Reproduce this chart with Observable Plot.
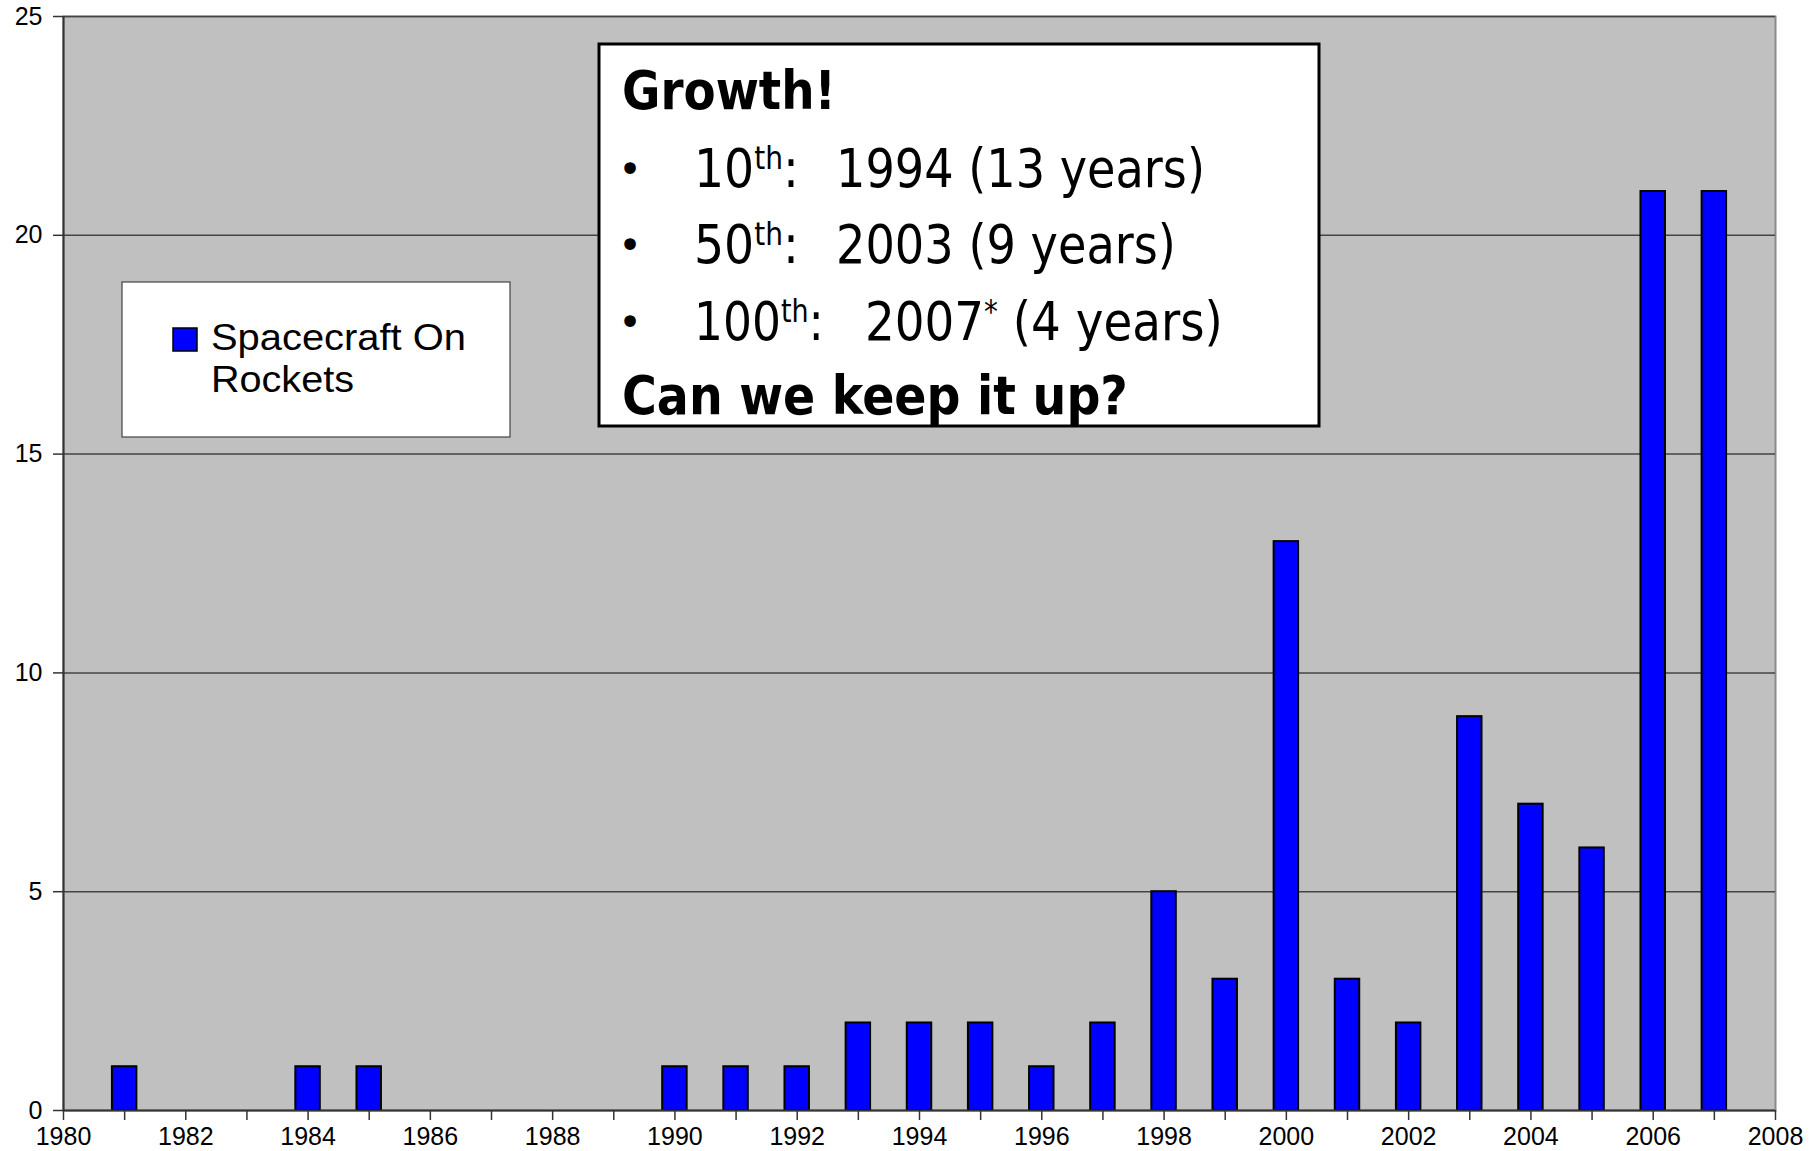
<!DOCTYPE html>
<html><head><meta charset="utf-8">
<script src="https://cdn.jsdelivr.net/npm/d3@7"></script>
<script src="https://cdn.jsdelivr.net/npm/@observablehq/plot@0.6"></script>
<style>
html,body{margin:0;padding:0;background:#fff;}
#wrap{position:relative;width:1820px;height:1151px;}
</style></head><body><div id="wrap"></div>
<script>
// ---- data ----
const years  = [1981,1984,1985,1990,1991,1992,1993,1994,1995,1996,1997,1998,1999,2000,2001,2002,2003,2004,2005,2006,2007];
const counts = [1,   1,   1,   1,   1,   1,   2,   2,   2,   1,   2,   5,   3,   13,  3,   2,   9,   7,   6,   21,  21];
const xTicks  = [1980,1981,1982,1983,1984,1985,1986,1987,1988,1989,1990,1991,1992,1993,1994,1995,1996,1997,1998,1999,2000,2001,2002,2003,2004,2005,2006,2007,2008];
const xLabels = [1980,1982,1984,1986,1988,1990,1992,1994,1996,1998,2000,2002,2004,2006,2008];
const yTicks  = [0,5,10,15,20,25];
const gridValues = [5,10,15,20,25];
const legendLines = ["Spacecraft On","Rockets"];
const boxTitle = "Growth!";
const boxBullets = [
  [{t:"10"},{t:"th",sup:true},{t:":"}, {t:"1994 (13 years)", gap:true}],
  [{t:"50"},{t:"th",sup:true},{t:":"}, {t:"2003 (9 years)", gap:true}],
  [{t:"100"},{t:"th",sup:true},{t:":"}, {t:"2007", gap:true},{t:"*",sup:true},{t:" (4 years)"}]
];
const boxFooter = "Can we keep it up?";

const data = years.map((y,i)=>({year:y, count:counts[i]}));

const chart = Plot.plot({
  width:1820, height:1151,
  marginLeft:63, marginRight:45, marginTop:16, marginBottom:41,
  style:{fontFamily:"'Liberation Sans', Arial, sans-serif", fontSize:"25px", color:"#000", background:"transparent", overflow:"visible"},
  x:{domain:[1980,2008]},
  y:{domain:[0,25]},
  marks:[
    Plot.frame({fill:"#c0c0c0", stroke:"#8a8a8a", strokeWidth:2}),
    Plot.ruleY(gridValues,{stroke:"#444", strokeWidth:1.5}),
    Plot.rectY(data,{x1:d=>d.year-0.2, x2:d=>d.year+0.2, y:"count", fill:"#0000ff", stroke:"#000", strokeWidth:2}),
    Plot.ruleX([1980],{stroke:"#333", strokeWidth:2}),
    Plot.ruleY([0],{stroke:"#333", strokeWidth:2}),
    Plot.axisX({ticks:xTicks, tickFormat:d=>xLabels.includes(d)?String(d):"", tickSize:10, tickPadding:7, label:null, stroke:"#333", strokeWidth:1.5}),
    Plot.axisY({ticks:yTicks, tickFormat:d=>String(d), tickSize:10, tickPadding:11, label:null, stroke:"#333", strokeWidth:1.5})
  ]
});
document.getElementById("wrap").appendChild(chart);

const svg = d3.select(chart);
const g = svg.append("g").attr("text-anchor","start");

function fitX(sel, x0, w){
  const bb = sel.node().getBBox();
  const k = w / bb.width;
  sel.attr("transform", `translate(${x0},0) scale(${k},1) translate(${-x0},0)`);
}

// ---- legend ----
g.append("rect").attr("x",122).attr("y",282).attr("width",388).attr("height",155)
  .attr("fill","#fff").attr("stroke","#444").attr("stroke-width",1.2);
g.append("rect").attr("x",173).attr("y",328).attr("width",24).attr("height",23)
  .attr("fill","#0000ff").attr("stroke","#000").attr("stroke-width",1.5);
const lt1 = g.append("text").attr("x",211).attr("y",350).attr("font-family","'Liberation Sans', Arial, sans-serif")
  .attr("font-size",37).attr("fill","#000").text(legendLines[0]);
fitX(lt1,211,255);
const lt2 = g.append("text").attr("x",211).attr("y",392).attr("font-family","'Liberation Sans', Arial, sans-serif")
  .attr("font-size",37).attr("fill","#000").text(legendLines[1]);
fitX(lt2,211,143);

// ---- text box ----
g.append("rect").attr("x",599).attr("y",44).attr("width",720).attr("height",382)
  .attr("fill","#fff").attr("stroke","#000").attr("stroke-width",3);
const FONT = "'DejaVu Sans', Verdana, sans-serif";
const tTitle = g.append("text").attr("x",622).attr("y",109).attr("font-family",FONT).attr("font-weight","bold")
  .attr("font-size",54).attr("fill","#000").text(boxTitle);
fitX(tTitle,622,214);
const tFoot = g.append("text").attr("x",622).attr("y",414).attr("font-family",FONT).attr("font-weight","bold")
  .attr("font-size",54).attr("fill","#000").text(boxFooter);
fitX(tFoot,622,506);

// bullet lines: [label part x/w, value part x/w]
const bulletY = [187,263,340];
const layout = [
  [{x:694,w:105},{x:836,w:369}],
  [{x:694,w:105},{x:836,w:340}],
  [{x:694,w:130},{x:865,w:358}]
];
boxBullets.forEach((segs,i)=>{
  const y = bulletY[i];
  g.append("text").attr("x",630).attr("y",y-4).attr("text-anchor","middle").attr("font-family",FONT)
    .attr("font-size",40).attr("fill","#000").text("\u2022");
  const cut = segs.findIndex(s=>s.gap);
  const parts = [segs.slice(0,cut), segs.slice(cut)];
  parts.forEach((p,j)=>{
    const L = layout[i][j];
    const t = g.append("text").attr("x",L.x).attr("y",y).attr("font-family",FONT)
      .attr("font-size",54).attr("fill","#000").attr("xml:space","preserve").style("white-space","pre");
    let raised = false;
    p.forEach(s=>{
      const ts = t.append("tspan").text(s.t);
      if (s.sup && !raised){ ts.attr("font-size",32).attr("dy",-18); raised = true; }
      else if (!s.sup && raised){ ts.attr("dy",18); raised = false; }
      else if (s.sup){ ts.attr("font-size",32); }
    });
    fitX(t,L.x,L.w);
  });
});
</script>
</body></html>
